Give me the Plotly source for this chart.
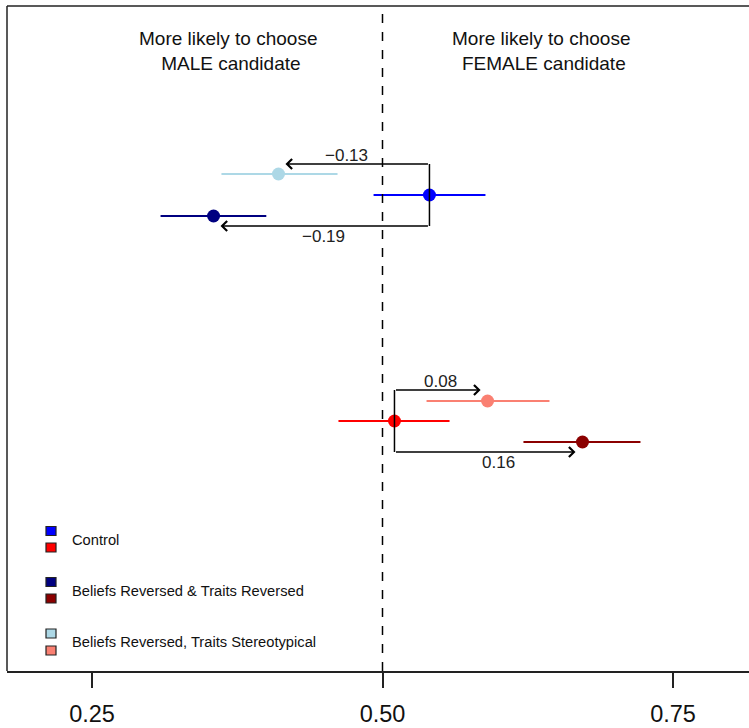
import plotly.graph_objects as go

# ---------------- data ----------------
groups = ["Control", "Beliefs Reversed & Traits Reversed", "Beliefs Reversed, Traits Stereotypical"]
# male-candidate panel (blue) and female-candidate panel (red)
male_est = [0.5404, 0.3546, 0.4105]
male_lo = [0.4923, 0.3090, 0.3614]
male_hi = [0.5886, 0.4000, 0.4613]
female_est = [0.5103, 0.6721, 0.5904]
female_lo = [0.4621, 0.6213, 0.5379]
female_hi = [0.5577, 0.7220, 0.6437]
male_colors = ["#0000FF", "#000080", "#ADD8E6"]
female_colors = ["#FF0000", "#8B0000", "#FA8072"]
tick_vals = [0.25, 0.5, 0.75]
tick_text = ["0.25", "0.50", "0.75"]

# vertical layout (y axis in screen-like units, top=6, bottom=671)
male_rows = [195, 216, 174]
female_rows = [421, 442, 401]

XMIN, XMAX = 0.17685, 0.8154
W, H = 749, 728
FONT = "Liberation Sans, Arial, sans-serif"

fig = go.Figure()

def fmt(v):
    s = f"{v:.2f}"
    return s.replace("-", "\u2212")

def add_group(est, lo, hi, cols, rows):
    for e, l, h, c, r in zip(est, lo, hi, cols, rows):
        fig.add_trace(go.Scatter(x=[l, h], y=[r, r], mode="lines",
                                 line=dict(color=c, width=2), showlegend=False, hoverinfo="skip"))
        fig.add_trace(go.Scatter(x=[e], y=[r], mode="markers",
                                 marker=dict(color=c, size=13, line=dict(width=0)),
                                 showlegend=False))

add_group(male_est, male_lo, male_hi, male_colors, male_rows)
add_group(female_est, female_lo, female_hi, female_colors, female_rows)

# difference arrows
def add_arrows(est, rows, offsets, label_pos):
    base, brow = est[0], rows[0]
    for i, (off, lp) in enumerate(zip(offsets, label_pos), start=1):
        target = est[i]
        ay = brow + off
        sign = 1 if target > base else -1
        tip = target - sign * 0.006
        fig.add_trace(go.Scatter(x=[base, base], y=[brow, ay], mode="lines",
                                 line=dict(color="black", width=1.5), showlegend=False, hoverinfo="skip"))
        fig.add_annotation(x=tip, y=ay, ax=base, ay=ay, xref="x", yref="y", axref="x", ayref="y",
                           showarrow=True, arrowhead=4, arrowsize=1.3, arrowwidth=1.5,
                           arrowcolor="black", text="", standoff=0, startstandoff=0)
        fig.add_annotation(x=lp[0], y=lp[1], xref="x", yref="y", text=fmt(target - base),
                           showarrow=False, font=dict(size=17, color="#222", family=FONT))

# order: index1 = reversed&reversed, index2 = stereotypical
add_arrows(male_est, male_rows, [31, -31], [(0.4495, 236), (0.4690, 155)])
add_arrows(female_est, female_rows, [31, -31], [(0.6001, 462), (0.5497, 381)])

# reference line at 0.5
fig.add_shape(type="line", x0=0.5, x1=0.5, y0=0, y1=1, xref="x", yref="paper",
              line=dict(color="black", width=1.5, dash="dash"))

# box lines (left, top)
fig.add_shape(type="line", x0=0, x1=0, y0=0, y1=1, xref="paper", yref="paper",
              line=dict(color="#222", width=1.5))
fig.add_shape(type="line", x0=0, x1=1, y0=1, y1=1, xref="paper", yref="paper",
              line=dict(color="#222", width=1.5))

# header texts
fig.add_annotation(x=0.3670, y=51, xref="x", yref="y", showarrow=False,
                   text="More likely to choose<br> MALE candidate",
                   font=dict(size=19, color="#111", family=FONT), align="center")
fig.add_annotation(x=0.6364, y=51, xref="x", yref="y", showarrow=False,
                   text="More likely to choose<br> FEMALE candidate",
                   font=dict(size=19, color="#111", family=FONT), align="center")

# legend
leg_rows = [(531, 547.5, 539.5), (582, 598.5, 590.5), (633.5, 650.5, 642)]
sx0 = (46 - 7) / (W - 7)
sx1 = (56 - 7) / (W - 7)
tx = (70 - 7) / (W - 7)
for name, mc, fc, (yb, yr, yt) in zip(groups, male_colors, female_colors, leg_rows):
    for yc, col in ((yb, mc), (yr, fc)):
        fig.add_shape(type="rect", x0=sx0, x1=sx1, y0=yc - 4.5, y1=yc + 4.5,
                      xref="paper", yref="y", fillcolor=col, line=dict(color="#222", width=1.2))
    fig.add_annotation(x=tx, y=yt, xref="paper", yref="y", text=name, showarrow=False,
                       xanchor="left", font=dict(size=14.7, color="#111", family=FONT))

fig.update_layout(
    width=W, height=H,
    margin=dict(l=7, r=0, t=6, b=57),
    plot_bgcolor="white", paper_bgcolor="white",
    showlegend=False,
    xaxis=dict(range=[XMIN, XMAX], tickvals=tick_vals, ticktext=tick_text,
               showgrid=False, zeroline=False, showline=True, linecolor="#222", linewidth=1.5,
               ticks="outside", ticklen=15, tickwidth=1.5, tickcolor="#222",
               tickfont=dict(size=23.5, color="#111", family=FONT), ticklabelstandoff=6),
    yaxis=dict(range=[671, 6], showgrid=False, zeroline=False, showticklabels=False,
               showline=False, ticks=""),
)

fig.write_html("out.html", config={"displayModeBar": False},
               post_script="document.body.style.margin='0';")
